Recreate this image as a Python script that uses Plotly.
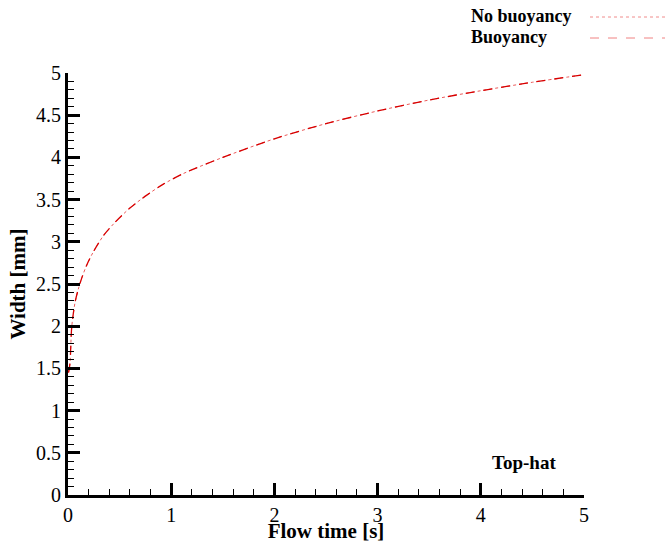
import plotly.graph_objects as go

time_s = [0.005, 0.019, 0.036, 0.068, 0.10, 0.133, 0.18, 0.245, 0.342, 0.455, 0.60, 0.76, 0.92, 1.12, 1.5, 2.0, 2.5, 3.0, 3.5, 4.0, 4.5, 5.0]
width_no_buoy = [1.45, 1.56, 1.99, 2.28, 2.44, 2.57, 2.72, 2.88, 3.07, 3.23, 3.40, 3.55, 3.68, 3.81, 4.00, 4.22, 4.40, 4.55, 4.68, 4.79, 4.89, 4.98]
width_buoy = [1.45, 1.56, 1.99, 2.28, 2.44, 2.57, 2.72, 2.88, 3.07, 3.23, 3.40, 3.55, 3.68, 3.81, 4.00, 4.22, 4.40, 4.55, 4.68, 4.79, 4.89, 4.98]
series_names = ["No buoyancy", "Buoyancy"]

FONT = "Liberation Serif"
L, R, T, B = 68, 81, 73, 48
W, H = 665, 543
pw, ph = W - L - R, H - T - B

fig = go.Figure()
fig.add_trace(go.Scatter(x=time_s, y=width_no_buoy, mode="lines", name=series_names[0],
                         line=dict(color="rgb(235,90,90)", width=1, dash="dot", shape="spline", smoothing=0.8)))
fig.add_trace(go.Scatter(x=time_s, y=width_buoy, mode="lines", name=series_names[1],
                         line=dict(color="rgb(215,0,0)", width=1.3, dash="dash", shape="spline", smoothing=0.8)))

axis_common = dict(
    showgrid=False, zeroline=False, showline=True, linecolor="black", linewidth=3,
    ticks="inside", ticklen=12, tickwidth=3, tickcolor="black",
    tickfont=dict(family=FONT, size=20, color="black"),
)

fig.update_layout(
    width=W, height=H, margin=dict(l=L, r=R, t=T, b=B, autoexpand=False),
    font=dict(family=FONT, color="black"),
    plot_bgcolor="white", paper_bgcolor="white", showlegend=False,
    xaxis=dict(range=[0, 5], dtick=1, tick0=0,
               minor=dict(dtick=0.2, ticks="inside", ticklen=6, tickwidth=1.2, tickcolor="black"),
               title=dict(text="<b>Flow time [s]</b>", standoff=1,
                          font=dict(family=FONT, size=21, color="black")), **axis_common),
    yaxis=dict(range=[0, 5], dtick=0.5, tick0=0,
               minor=dict(dtick=0.1, ticks="inside", ticklen=6, tickwidth=1.2, tickcolor="black"),
               title=dict(text="<b>Width [mm]</b>", standoff=5,
                          font=dict(family=FONT, size=21, color="black")), **axis_common),
)

def px_to_paper_x(px):
    return (px - L) / pw

def px_to_paper_y(py):
    return (H - B - py) / ph

legend_rows = [(series_names[0], 16, "dot", "rgb(240,140,140)"), (series_names[1], 37, "dash", "rgb(240,130,130)")]
for name, py, dash, col in legend_rows:
    fig.add_annotation(text=f"<b>{name}</b>", xref="paper", yref="paper",
                       x=px_to_paper_x(469), y=px_to_paper_y(py), xanchor="left", yanchor="middle",
                       showarrow=False, font=dict(family=FONT, size=18, color="black"))
    fig.add_shape(type="line", xref="paper", yref="paper",
                  x0=px_to_paper_x(590), x1=px_to_paper_x(665),
                  y0=px_to_paper_y(py + 1), y1=px_to_paper_y(py + 1),
                  line=dict(color=col, width=1, dash=dash))

fig.add_annotation(text="<b>Top-hat</b>", x=4.42, y=0.38, xref="x", yref="y",
                   showarrow=False, font=dict(family=FONT, size=19, color="black"))

fig.write_html("out.html")
